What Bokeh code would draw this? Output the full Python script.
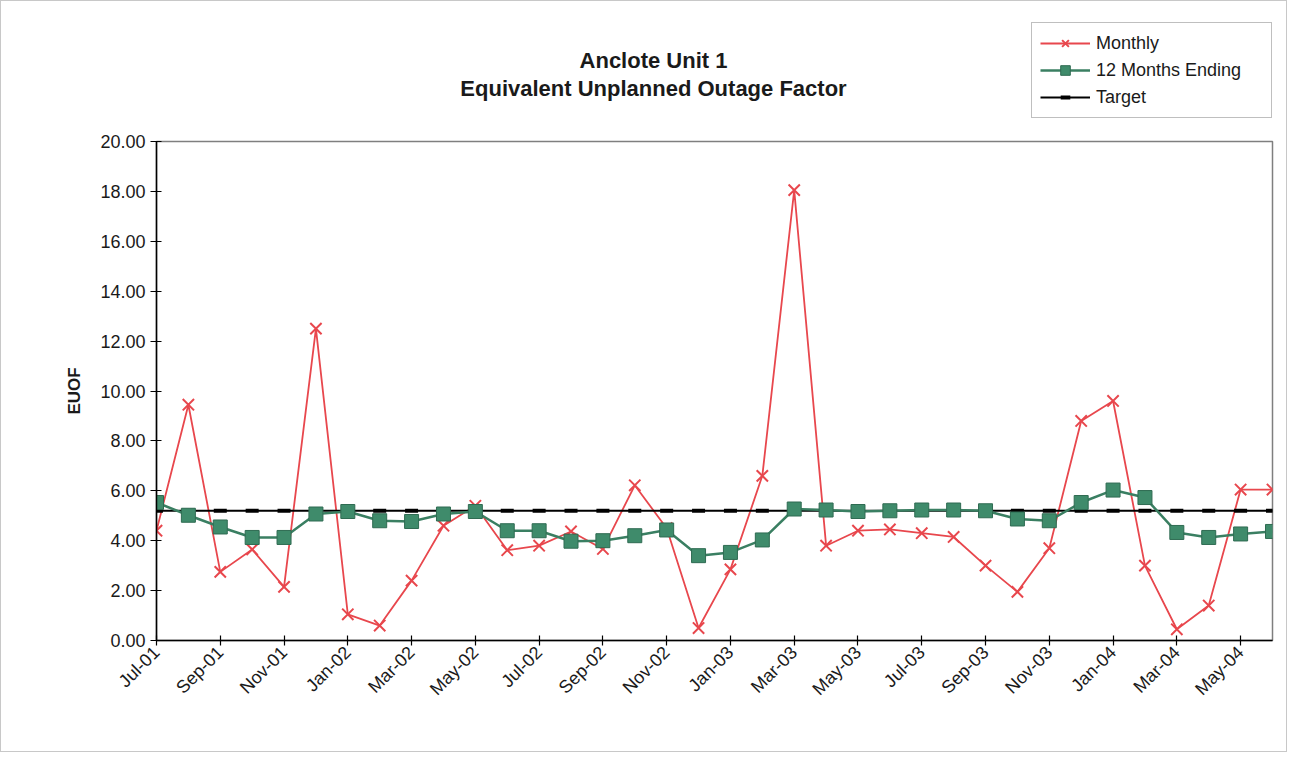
from bokeh.plotting import figure
from bokeh.models import (Range1d, FixedTicker, NumeralTickFormatter, Legend, LegendItem,
                          Label, ColumnDataSource)
from bokeh.layouts import column
from bokeh.embed import file_html
from bokeh.resources import INLINE
import math

months = ["Jul-01", "Aug-01", "Sep-01", "Oct-01", "Nov-01", "Dec-01",
          "Jan-02", "Feb-02", "Mar-02", "Apr-02", "May-02", "Jun-02",
          "Jul-02", "Aug-02", "Sep-02", "Oct-02", "Nov-02", "Dec-02",
          "Jan-03", "Feb-03", "Mar-03", "Apr-03", "May-03", "Jun-03",
          "Jul-03", "Aug-03", "Sep-03", "Oct-03", "Nov-03", "Dec-03",
          "Jan-04", "Feb-04", "Mar-04", "Apr-04", "May-04", "Jun-04"]

monthly = [4.40, 9.45, 2.75, 3.65, 2.15, 12.50,
           1.05, 0.60, 2.40, 4.60, 5.40, 3.62,
           3.80, 4.37, 3.67, 6.22, 4.50, 0.50,
           2.85, 6.60, 18.05, 3.80, 4.40, 4.45,
           4.30, 4.15, 3.00, 1.95, 3.70, 8.80,
           9.60, 3.00, 0.45, 1.40, 6.05, 6.05]

twelve_months = [5.53, 5.02, 4.55, 4.13, 4.13, 5.07,
                 5.17, 4.80, 4.77, 5.07, 5.17, 4.40,
                 4.40, 3.98, 4.00, 4.20, 4.43, 3.40,
                 3.53, 4.03, 5.27, 5.23, 5.17, 5.20,
                 5.23, 5.23, 5.20, 4.87, 4.80, 5.53,
                 6.03, 5.73, 4.33, 4.13, 4.27, 4.37]

target = [5.20] * 36

y_ticks = [0, 2, 4, 6, 8, 10, 12, 14, 16, 18, 20]
x_label_step = 2

title_line1 = "Anclote Unit 1"
title_line2 = "Equivalent Unplanned Outage Factor"

FONT = "Liberation Sans"
RED = "#e8474d"
GREEN_LINE = "#3a7f62"
GREEN_FILL = "#3f8b6b"
TEXT = "#1a1a1a"

x = list(range(len(months)))
src = ColumnDataSource(dict(x=x, monthly=monthly, twelve=twelve_months, target=target))

W = 1285
TOP_H = 120
MAIN_H = 630
LEFT = 155
FRAME_W = 1116

# ---------------- main plot ----------------
p = figure(width=W, height=MAIN_H, output_backend="svg", toolbar_location=None,
           x_range=Range1d(0, len(months) - 1), y_range=Range1d(y_ticks[0], y_ticks[-1]),
           min_border_left=LEFT, min_border_right=W - LEFT - FRAME_W,
           min_border_top=20, min_border_bottom=MAIN_H - 20 - 499,
           background_fill_color="white", border_fill_color="white")
p.grid.visible = False
p.outline_line_color = "#7f7f7f"
p.outline_line_width = 1.5

p.xaxis.ticker = FixedTicker(ticks=x[::x_label_step])
p.xaxis.major_label_overrides = {i: months[i] for i in x[::x_label_step]}
p.xaxis.major_label_orientation = math.pi / 4
p.xaxis.minor_tick_line_color = None
p.xaxis.major_tick_in = 5
p.xaxis.major_tick_out = 5
p.xaxis.major_label_standoff = 4

p.yaxis.ticker = FixedTicker(ticks=y_ticks)
p.yaxis.formatter = NumeralTickFormatter(format="0.00")
p.yaxis.minor_tick_line_color = None
p.yaxis.major_tick_in = 5
p.yaxis.major_tick_out = 6
p.yaxis.major_label_standoff = 5
p.yaxis.axis_label = "EUOF"
p.yaxis.axis_label_text_font = FONT
p.yaxis.axis_label_text_font_style = "bold"
p.yaxis.axis_label_text_font_size = "17px"
p.yaxis.axis_label_text_color = TEXT
p.yaxis.axis_label_standoff = 13

for ax in (p.xaxis, p.yaxis):
    ax.axis_line_color = "black"
    ax.axis_line_width = 1.5
    ax.major_tick_line_color = "black"
    ax.major_tick_line_width = 1.2
    ax.major_label_text_font = FONT
    ax.major_label_text_font_size = "18px"
    ax.major_label_text_color = TEXT


def add_series(fig):
    rml = fig.line("x", "monthly", source=src, line_color=RED, line_width=1.8)
    rmm = fig.scatter("x", "monthly", source=src, marker="x", size=16,
                      line_color=RED, line_width=2)
    rtl = fig.line("x", "target", source=src, line_color="black", line_width=2)
    rtm = fig.scatter("x", "target", source=src, marker="dash", size=13,
                      line_color="black", line_width=4)
    rgl = fig.line("x", "twelve", source=src, line_color=GREEN_LINE, line_width=2.5)
    rgm = fig.scatter("x", "twelve", source=src, marker="square", size=14,
                      fill_color=GREEN_FILL, line_color="#2f6b52", line_width=1)
    return (rml, rmm), (rgl, rgm), (rtl, rtm)


add_series(p)

# ---------------- header (title + legend) ----------------
# its frame is aligned with the main plot's frame (left edge at the y axis)
top = figure(width=W, height=TOP_H, output_backend="svg", toolbar_location=None,
             x_range=Range1d(1000, 1001), y_range=Range1d(1000, 1001),
             x_axis_location=None, y_axis_location=None,
             min_border_left=LEFT, min_border_right=W - LEFT - FRAME_W,
             min_border_top=0, min_border_bottom=0,
             background_fill_color="white", border_fill_color="white")
top.grid.visible = False
top.outline_line_color = None

(m_r, g_r, t_r) = add_series(top)

legend = Legend(items=[
    LegendItem(label="Monthly", renderers=list(m_r)),
    LegendItem(label="12 Months Ending", renderers=list(g_r)),
    LegendItem(label="Target", renderers=list(t_r)),
], location=(875, 3))
legend.label_text_font = FONT
legend.label_text_font_size = "18px"
legend.label_text_color = TEXT
legend.glyph_width = 50
legend.glyph_height = 24
legend.label_height = 24
legend.label_width = 167
legend.label_standoff = 6
legend.spacing = 3
legend.padding = 8
legend.margin = 0
legend.border_line_color = "#7f7f7f"
legend.border_line_width = 1.2
legend.background_fill_color = "white"
legend.background_fill_alpha = 1
top.add_layout(legend, "center")

t1 = Label(x=497, y=TOP_H - 59, x_units="screen", y_units="screen", text=title_line1,
           text_font=FONT, text_font_style="bold", text_font_size="22px",
           text_align="center", text_baseline="middle", text_color=TEXT)
t2 = Label(x=497, y=TOP_H - 87, x_units="screen", y_units="screen", text=title_line2,
           text_font=FONT, text_font_style="bold", text_font_size="22px",
           text_align="center", text_baseline="middle", text_color=TEXT)
top.add_layout(t1)
top.add_layout(t2)

page = column(top, p, spacing=0)
page.styles = {"border": "1px solid #c8c8c8"}

open("out.html", "w").write(file_html(page, INLINE))
